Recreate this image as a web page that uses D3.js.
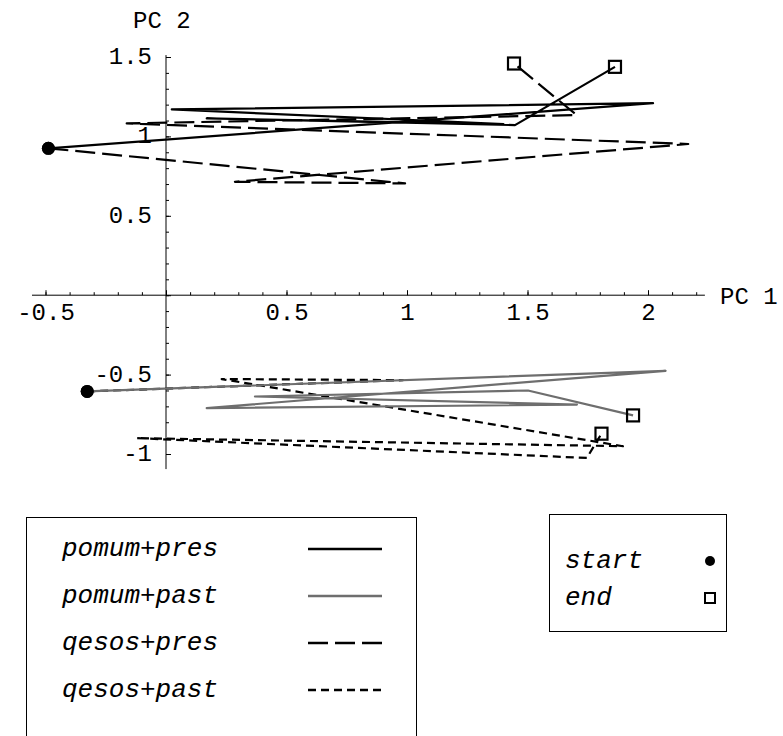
<!DOCTYPE html>
<html>
<head>
<meta charset="utf-8">
<script src="https://cdn.jsdelivr.net/npm/d3@7"></script>
<style>
  body { margin: 0; background: #fff; }
  svg { display: block; }
  text { font-family: 'Liberation Mono', 'Courier New', monospace; fill: #000; }
</style>
</head>
<body>
<div id="chart"></div>
<script>
// PC 1 / PC 2 trajectories, one [x, y] pair per step
const pomumPres = [[-0.488, 0.925], [2.021, 1.209], [0.024, 1.170], [1.40, 1.078], [0.169, 1.113], [1.448, 1.071], [1.863, 1.438]];
const pomumPast = [[-0.327, -0.606], [2.073, -0.476], [0.169, -0.711], [1.705, -0.689], [0.369, -0.638], [1.502, -0.600], [1.938, -0.757]];
const qesosPres = [[-0.488, 0.925], [0.992, 0.704], [0.286, 0.714], [2.167, 0.952], [-0.163, 1.082], [1.704, 1.134], [1.444, 1.459]];
const qesosPast = [[-0.327, -0.606], [0.983, -0.535], [0.231, -0.528], [1.896, -0.951], [-0.122, -0.900], [1.746, -1.025], [1.807, -0.872]];

const seriesNames = ['pomum+pres', 'pomum+past', 'qesos+pres', 'qesos+past'];
const xTickLabels = [-0.5, 0.5, 1, 1.5, 2];
const yTickLabels = [-1, -0.5, 0.5, 1, 1.5];
const markerNames = ['start', 'end'];

function getStyles() {
    return {
        'pomum+pres': { stroke: '#000', dash: null },
        'pomum+past': { stroke: '#6e6e6e', dash: null },
        'qesos+pres': { stroke: '#000', dash: '20,7' },
        'qesos+past': { stroke: '#000', dash: '8,5' }
    };
}

function layout() {
    const svg = d3.select('#chart')
        .append('svg')
        .attr('width', 783)
        .attr('height', 736);

    const x = d3.scaleLinear().domain([-0.5, 2]).range([45.5, 648]);
    const y = d3.scaleLinear().domain([1.5, -1]).range([57, 454]);

    return { svg, x, y };
}

function addAxes(chart) {
    const { svg, x, y } = chart;

    //minor ticks
    svg.append('g')
        .attr('transform', `translate(0,${y(0)})`)
        .call(d3.axisBottom(x).tickValues(d3.range(-5, 23).map(i => i / 10)).tickSize(-3).tickFormat(''))
        .call(g => g.select('.domain').remove());
    svg.append('g')
        .attr('transform', `translate(${x(0)},0)`)
        .call(d3.axisLeft(y).tickValues(d3.range(-10, 16).map(i => i / 10)).tickSize(-3).tickFormat(''))
        .call(g => g.select('.domain').remove());

    //major ticks + labels
    const xAxis = svg.append('g')
        .attr('transform', `translate(0,${y(0)})`)
        .call(d3.axisBottom(x).tickValues(d3.range(-1, 5).map(i => i / 2)).tickSize(-5).tickFormat(d => xTickLabels.includes(d) ? String(d) : ''))
        .call(g => g.select('.domain').remove());
    xAxis.selectAll('text')
        .attr('y', 18)
        .attr('dy', null)
        .attr('dominant-baseline', 'central');

    const yAxis = svg.append('g')
        .attr('transform', `translate(${x(0)},0)`)
        .call(d3.axisLeft(y).tickValues(d3.range(-2, 4).map(i => i / 2)).tickSize(-5).tickPadding(14).tickFormat(d => yTickLabels.includes(d) ? String(d) : ''))
        .call(g => g.select('.domain').remove());
    yAxis.selectAll('text')
        .attr('dy', null)
        .attr('dominant-baseline', 'central');

    svg.selectAll('.tick line').attr('stroke', '#000');
    svg.selectAll('.tick text')
        .attr('font-size', 24)
        .attr('font-family', "'Liberation Mono', monospace")
        .attr('fill', '#000');

    //axis lines
    svg.append('line')
        .attr('x1', x(-0.556)).attr('x2', x(2.236))
        .attr('y1', y(0)).attr('y2', y(0))
        .attr('stroke', '#000');
    svg.append('line')
        .attr('x1', x(0)).attr('x2', x(0))
        .attr('y1', y(1.512)).attr('y2', y(-1.095))
        .attr('stroke', '#000');

    //labels
    svg.append('text')
        .attr('x', 133).attr('y', 21)
        .attr('dominant-baseline', 'central')
        .attr('font-size', 24)
        .text('PC 2');
    svg.append('text')
        .attr('x', 720).attr('y', 297)
        .attr('dominant-baseline', 'central')
        .attr('font-size', 24)
        .text('PC 1');
}

function drawSeries(chart) {
    const { svg, x, y } = chart;
    const styles = getStyles();
    const data = {
        'pomum+pres': pomumPres,
        'pomum+past': pomumPast,
        'qesos+pres': qesosPres,
        'qesos+past': qesosPast
    };
    const line = d3.line().x(d => x(d[0])).y(d => y(d[1]));

    // qesos first so the grey start segment sits on top
    const order = ['qesos+past', 'qesos+pres', 'pomum+past', 'pomum+pres'];
    svg.append('g')
        .selectAll('path')
        .data(order)
        .join('path')
        .attr('d', k => line(data[k]))
        .attr('fill', 'none')
        .attr('stroke', k => styles[k].stroke)
        .attr('stroke-width', 2.2)
        .attr('stroke-dasharray', k => styles[k].dash)
        .attr('stroke-linejoin', 'round');

    const starts = seriesNames.map(k => data[k][0]);
    const ends = seriesNames.map(k => data[k][data[k].length - 1]);

    svg.append('g')
        .selectAll('circle')
        .data(starts)
        .join('circle')
        .attr('cx', d => x(d[0]))
        .attr('cy', d => y(d[1]))
        .attr('r', 6.5)
        .attr('fill', '#000');

    svg.append('g')
        .selectAll('rect')
        .data(ends)
        .join('rect')
        .attr('x', d => x(d[0]) - 6)
        .attr('y', d => y(d[1]) - 6)
        .attr('width', 12)
        .attr('height', 12)
        .attr('fill', 'none')
        .attr('stroke', '#000')
        .attr('stroke-width', 2.2);
}

function drawLegends(chart) {
    const { svg } = chart;
    const styles = getStyles();

    //series legend
    const lg = svg.append('g');
    lg.append('rect')
        .attr('x', 26.5).attr('y', 517.5)
        .attr('width', 390).attr('height', 300)
        .attr('fill', 'none').attr('stroke', '#000');
    const rows = lg.selectAll('g.row')
        .data(seriesNames)
        .join('g')
        .attr('class', 'row')
        .attr('transform', (d, i) => `translate(0,${549 + i * 47})`);
    rows.append('text')
        .attr('x', 62)
        .attr('dominant-baseline', 'central')
        .attr('font-size', 26)
        .attr('font-style', 'italic')
        .text(d => d);
    rows.append('line')
        .attr('x1', 308).attr('x2', 382)
        .attr('y1', 0).attr('y2', 0)
        .attr('stroke', d => styles[d].stroke)
        .attr('stroke-width', 2.5)
        .attr('stroke-dasharray', d => styles[d].dash);

    //marker legend
    const mg = svg.append('g');
    mg.append('rect')
        .attr('x', 549.5).attr('y', 514.5)
        .attr('width', 177).attr('height', 117)
        .attr('fill', 'none').attr('stroke', '#000');
    mg.selectAll('text')
        .data(markerNames)
        .join('text')
        .attr('x', 565)
        .attr('y', (d, i) => 561 + i * 37)
        .attr('dominant-baseline', 'central')
        .attr('font-size', 26)
        .attr('font-style', 'italic')
        .text(d => d);
    mg.append('circle')
        .attr('cx', 710).attr('cy', 561).attr('r', 5)
        .attr('fill', '#000');
    mg.append('rect')
        .attr('x', 705).attr('y', 593).attr('width', 10).attr('height', 10)
        .attr('fill', 'none').attr('stroke', '#000').attr('stroke-width', 2);
}

const chart = layout();
addAxes(chart);
drawSeries(chart);
drawLegends(chart);
</script>
</body>
</html>
